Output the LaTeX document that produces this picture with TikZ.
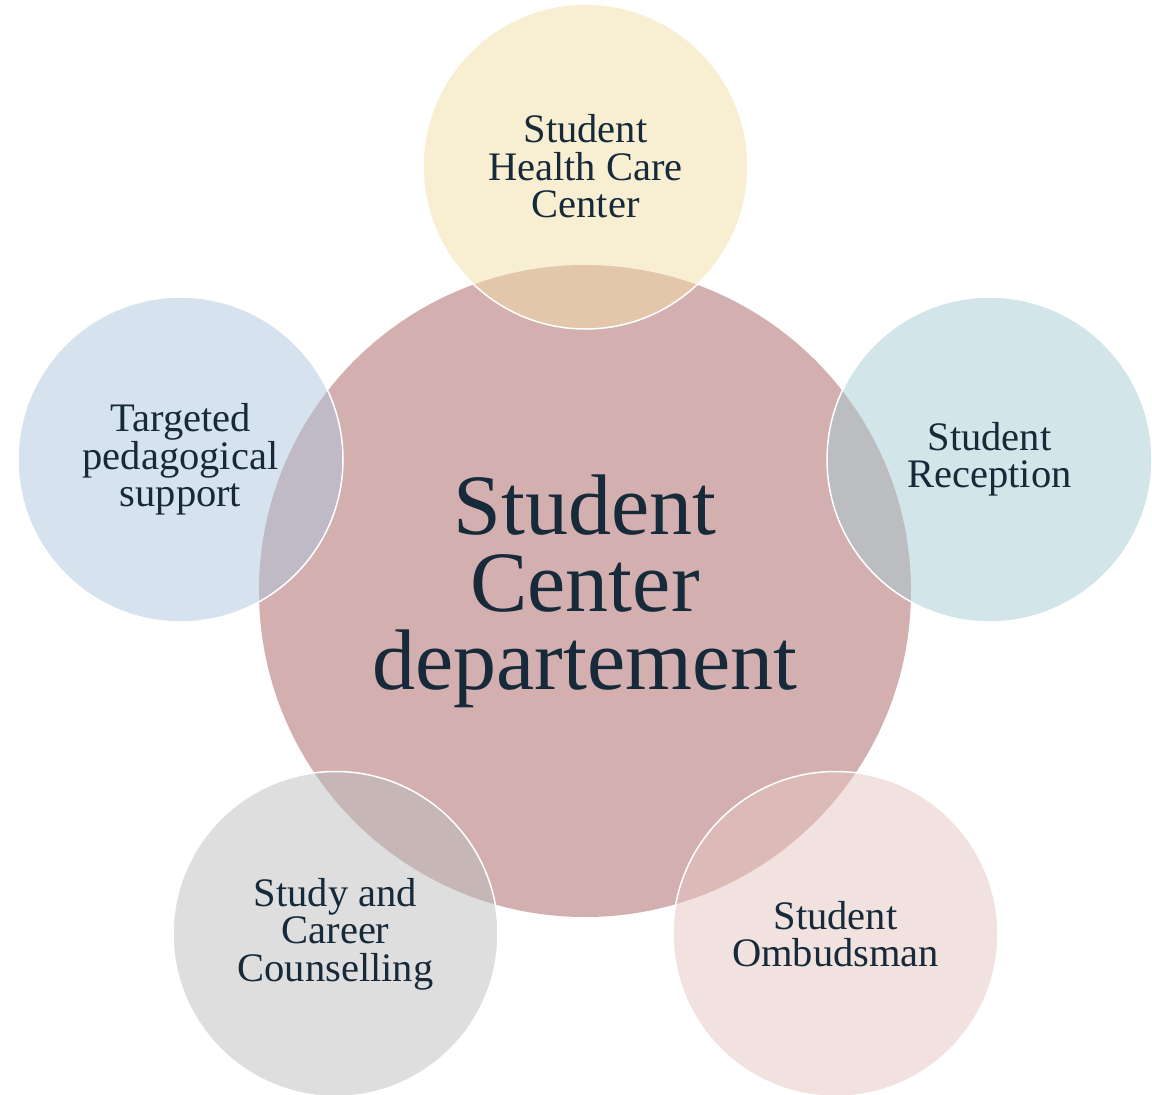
\documentclass[tikz,border=0pt]{standalone}
\usepackage{fontspec}
\setmainfont{Liberation Serif}
\definecolor{ink}{RGB}{23,42,58}
\definecolor{hubfill}{RGB}{211,175,175}
\definecolor{healthfill}{RGB}{241,223,167}
\definecolor{receptionfill}{RGB}{165,203,209}
\definecolor{pedagogyfill}{RGB}{173,197,221}
\definecolor{careerfill}{RGB}{189,189,189}
\definecolor{ombudsfill}{RGB}{229,197,191}
\begin{document}
\begin{tikzpicture}[x=1pt,y=-1pt,
  hub/.style={circle, fill=hubfill, minimum size=652pt, inner sep=0pt,
    text=ink, align=center, font=\fontsize{86}{77.5}\selectfont},
  unit/.style={circle, draw=white, line width=1.5pt, fill opacity=0.5,
    draw opacity=1, text opacity=1, minimum size=325pt, inner sep=0pt,
    text=ink, align=center, font=\fontsize{40.5}{37.5}\selectfont}]
\useasboundingbox (0,0) rectangle (1152,1095);
% central department
\node[hub] (hub) at (585,591) {Student\\Center\\departement};
% surrounding services
\node[unit, fill=healthfill] (health) at (585.5,166.5) {Student\\Health Care\\Center};
\node[unit, fill=receptionfill] (reception) at (989.5,459.5) {Student\\Reception};
\node[unit, fill=pedagogyfill] (pedagogy) at (180.5,459.5) {Targeted\\pedagogical\\support};
\node[unit, fill=careerfill] (career) at (335.5,934) {Study and\\Career\\Counselling};
\node[unit, fill=ombudsfill] (ombuds) at (835.5,934) {Student\\Ombudsman};
\end{tikzpicture}
\end{document}
